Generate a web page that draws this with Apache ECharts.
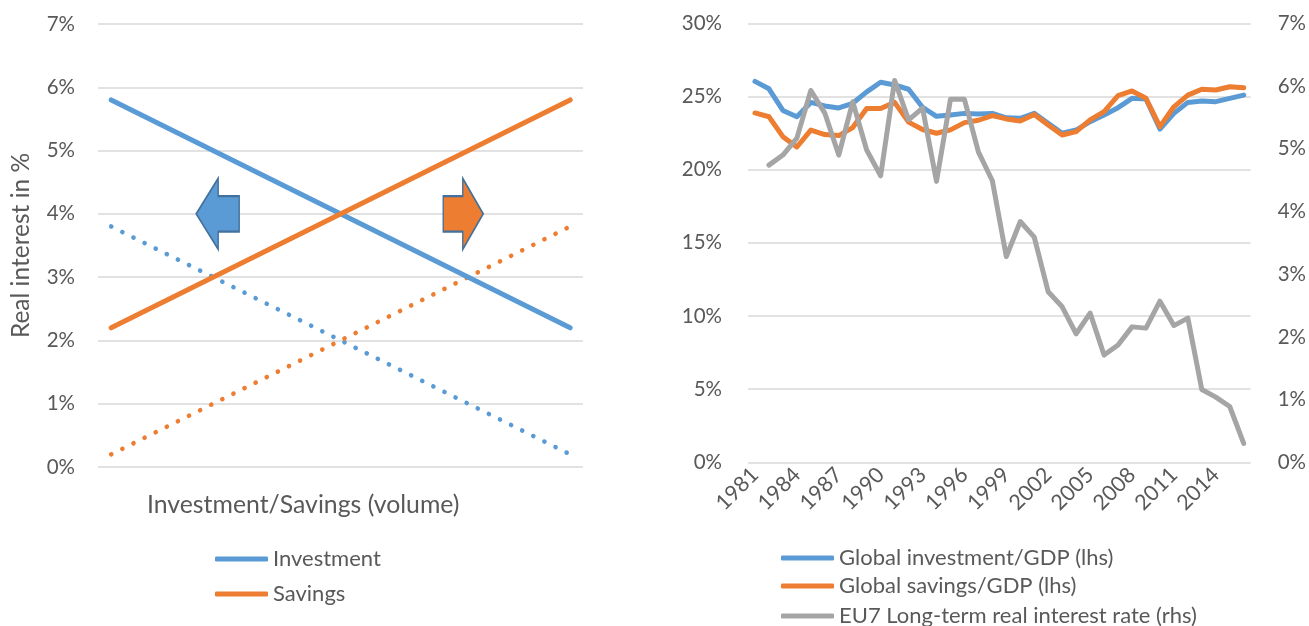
<!DOCTYPE html>
<html>
<head>
<meta charset="utf-8">
<script src="https://cdn.jsdelivr.net/npm/echarts@6/dist/echarts.min.js"></script>
<style>
html,body{margin:0;padding:0;background:#fff;}
#chart{width:1309px;height:626px;}
</style>
</head>
<body>
<div id="chart"></div>
<script>
// ---- Left panel (schematic) ----
const volumeX = [0, 10];
const investmentRate = [5.8, 2.2];
const savingsRate = [2.2, 5.8];
const investmentShifted = [3.8, 0.2];
const savingsShifted = [0.2, 3.8];
const arrowX = [2.32, 7.67];
const arrowY = [4, 4];

// ---- Right panel (data) ----
const years = ['1981','1982','1983','1984','1985','1986','1987','1988','1989','1990',
  '1991','1992','1993','1994','1995','1996','1997','1998','1999','2000',
  '2001','2002','2003','2004','2005','2006','2007','2008','2009','2010',
  '2011','2012','2013','2014','2015','2016'];
const globalInvestment = [26.04,25.53,24.05,23.62,24.6,24.36,24.22,24.54,25.32,25.98,
  25.79,25.5,24.27,23.65,23.74,23.85,23.8,23.85,23.55,23.51,
  23.85,23.17,22.49,22.71,23.28,23.74,24.24,24.88,24.83,22.78,
  23.85,24.6,24.7,24.65,24.88,25.1];
const globalSavings = [23.88,23.62,22.26,21.55,22.71,22.4,22.33,22.88,24.18,24.18,
  24.6,23.25,22.75,22.49,22.72,23.22,23.38,23.7,23.47,23.33,
  23.78,23.06,22.37,22.6,23.4,23.97,25.06,25.38,24.88,22.94,
  24.3,25.1,25.5,25.45,25.67,25.6];
const eu7RealRate = [null,4.74,4.9,5.17,5.93,5.57,4.9,5.75,4.98,4.57,
  6.09,5.46,5.65,4.48,5.79,5.79,4.95,4.49,3.28,3.84,
  3.59,2.72,2.48,2.05,2.38,1.71,1.87,2.16,2.14,2.57,
  2.18,2.3,1.16,1.04,0.89,0.3];

const BLUE = '#5B9BD5', ORANGE = '#ED7D31', GREY = '#A5A5A5', TXT = '#595959', GRID = '#D9D9D9';
const FONT = 'Lato';

const chart = echarts.init(document.getElementById('chart'), null, {renderer: 'canvas'});

const pair = (xs, ys) => xs.map((x, i) => [x, ys[i]]);

const leftArrowPath = 'path://M0,36L22,0L22,18L43,18L43,54L22,54L22,72Z';
const rightArrowPath = 'path://M43,36L21,0L21,18L0,18L0,54L21,54L21,72Z';

const legendText = {fontFamily: FONT, fontSize: 22, color: TXT, lineHeight: 26};
const legendBase = {icon: 'roundRect', itemWidth: 53, itemHeight: 5, padding: 0, textStyle: legendText};

const option = {
  animation: false,
  backgroundColor: '#fff',
  textStyle: {fontFamily: FONT, color: TXT},
  title: {
    text: 'Investment/Savings (volume)',
    left: 147, top: 493, padding: 0,
    textStyle: {fontFamily: FONT, fontSize: 24.8, fontWeight: 'normal', color: TXT}
  },
  legend: [
    Object.assign({data: ['Investment'], left: 215, top: 546}, legendBase),
    Object.assign({data: ['Savings'], left: 215, top: 581}, legendBase),
    Object.assign({data: ['Global investment/GDP (lhs)'], left: 781, top: 545}, legendBase),
    Object.assign({data: ['Global savings/GDP (lhs)'], left: 781, top: 573}, legendBase),
    Object.assign({data: ['EU7 Long-term real interest rate (rhs)'], left: 781, top: 603}, legendBase)
  ],
  grid: [
    {left: 98, right: 1309 - 583, top: 24, bottom: 626 - 467},
    {left: 748, right: 1309 - 1256, top: 23.4, bottom: 626 - 462.3}
  ],
  xAxis: [
    {gridIndex: 0, type: 'value', min: -0.288, max: 10.28, show: false},
    {gridIndex: 1, type: 'category', data: years, boundaryGap: true,
      axisLine: {show: false}, axisTick: {show: false},
      axisLabel: {interval: 2, rotate: 45, fontFamily: FONT, fontSize: 21.5, color: TXT, margin: 9}}
  ],
  yAxis: [
    {gridIndex: 0, type: 'value', min: 0, max: 7, interval: 1,
      name: 'Real interest in %', nameLocation: 'middle', nameGap: 64, nameRotate: 90,
      nameTextStyle: {fontFamily: FONT, fontSize: 24.5, color: TXT},
      axisLine: {show: false}, axisTick: {show: false},
      axisLabel: {formatter: '{value}%', fontFamily: FONT, fontSize: 20.5, color: TXT, margin: 23},
      splitLine: {lineStyle: {color: GRID, width: 1.5}}},
    {gridIndex: 1, type: 'value', min: 0, max: 30, interval: 5,
      axisLine: {show: false}, axisTick: {show: false},
      axisLabel: {formatter: '{value}%', fontFamily: FONT, fontSize: 20.5, color: TXT, margin: 26},
      splitLine: {lineStyle: {color: GRID, width: 1.5}}},
    {gridIndex: 1, type: 'value', min: 0, max: 7, interval: 1, position: 'right',
      axisLine: {show: false}, axisTick: {show: false},
      axisLabel: {formatter: '{value}%', fontFamily: FONT, fontSize: 20.5, color: TXT, margin: 27},
      splitLine: {show: false}}
  ],
  series: [
    {name: 'Investment (shifted)', type: 'line', xAxisIndex: 0, yAxisIndex: 0, data: pair(volumeX, investmentShifted),
      symbol: 'none', lineStyle: {color: BLUE, width: 4.6, type: [0.1, 12.3], cap: 'round'}, itemStyle: {color: BLUE}},
    {name: 'Savings (shifted)', type: 'line', xAxisIndex: 0, yAxisIndex: 0, data: pair(volumeX, savingsShifted),
      symbol: 'none', lineStyle: {color: ORANGE, width: 4.6, type: [0.1, 12.3], cap: 'round'}, itemStyle: {color: ORANGE}},
    {name: 'Investment', type: 'line', xAxisIndex: 0, yAxisIndex: 0, data: pair(volumeX, investmentRate),
      symbol: 'none', lineStyle: {color: BLUE, width: 5, cap: 'round'}, itemStyle: {color: BLUE},
      markPoint: {silent: true, label: {show: false},
        data: [{coord: [arrowX[0], arrowY[0]], symbol: leftArrowPath, symbolSize: [43, 71],
          itemStyle: {color: BLUE, borderColor: '#41719C', borderWidth: 1.8}}]}},
    {name: 'Savings', type: 'line', xAxisIndex: 0, yAxisIndex: 0, data: pair(volumeX, savingsRate),
      symbol: 'none', lineStyle: {color: ORANGE, width: 5, cap: 'round'}, itemStyle: {color: ORANGE},
      markPoint: {silent: true, label: {show: false},
        data: [{coord: [arrowX[1], arrowY[1]], symbol: rightArrowPath, symbolSize: [40, 71],
          itemStyle: {color: ORANGE, borderColor: '#41719C', borderWidth: 1.8}}]}},
    {name: 'Global investment/GDP (lhs)', type: 'line', xAxisIndex: 1, yAxisIndex: 1, data: globalInvestment,
      symbol: 'none', lineStyle: {color: BLUE, width: 5, cap: 'round', join: 'round'}, itemStyle: {color: BLUE}},
    {name: 'Global savings/GDP (lhs)', type: 'line', xAxisIndex: 1, yAxisIndex: 1, data: globalSavings,
      symbol: 'none', lineStyle: {color: ORANGE, width: 5, cap: 'round', join: 'round'}, itemStyle: {color: ORANGE}},
    {name: 'EU7 Long-term real interest rate (rhs)', type: 'line', xAxisIndex: 1, yAxisIndex: 2, data: eu7RealRate,
      symbol: 'none', lineStyle: {color: GREY, width: 5, cap: 'round', join: 'round'}, itemStyle: {color: GREY}}
  ]
};
chart.setOption(option);
</script>
</body>
</html>
